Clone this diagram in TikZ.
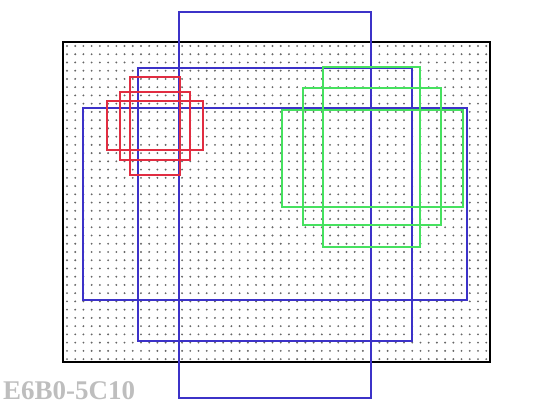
\documentclass[tikz,border=0pt]{standalone}
\usepackage{fontspec}
\setmainfont{Liberation Serif}
\definecolor{boxblue}{RGB}{60,50,200}
\definecolor{boxred}{RGB}{225,45,65}
\definecolor{boxgreen}{RGB}{70,225,95}
\definecolor{labelgray}{RGB}{190,190,190}
\tikzset{
  frame/.style={draw=black, line width=1.6pt},
  griddot/.style={fill=black!60},
  bluebox/.style={draw=boxblue, line width=1.3pt},
  redbox/.style={draw=boxred, line width=1.3pt},
  greenbox/.style={draw=boxgreen, line width=1.4pt}
}
\begin{document}
\begin{tikzpicture}[x=1pt, y=-1pt]
  \useasboundingbox (0,0) rectangle (558,411);

  % dotted sheet
  \foreach \i in {0,...,51}
    \foreach \j in {0,...,38}
      \fill[griddot] (67+8.22*\i, 46+8.24*\j) circle (1.05pt);
  \draw[frame] (63,42) rectangle (490,362);

  % blue windows
  \draw[bluebox] (179,12) rectangle (371,398);
  \draw[bluebox] (138,68) rectangle (412,341);
  \draw[bluebox] (83,108) rectangle (467,300);

  % red windows
  \draw[redbox] (130,77) rectangle (180,175);
  \draw[redbox] (120,92) rectangle (190,160);
  \draw[redbox] (107,101) rectangle (203,150);

  % green windows
  \draw[greenbox] (323,67) rectangle (420,247);
  \draw[greenbox] (303,88) rectangle (441,225);
  \draw[greenbox] (282,110) rectangle (463,207);

  % code
  \node[anchor=base west, inner sep=0pt, text=labelgray,
        font=\bfseries\fontsize{27}{27}\selectfont] (code) at (3,400) {E6B0-5C10};
\end{tikzpicture}
\end{document}
